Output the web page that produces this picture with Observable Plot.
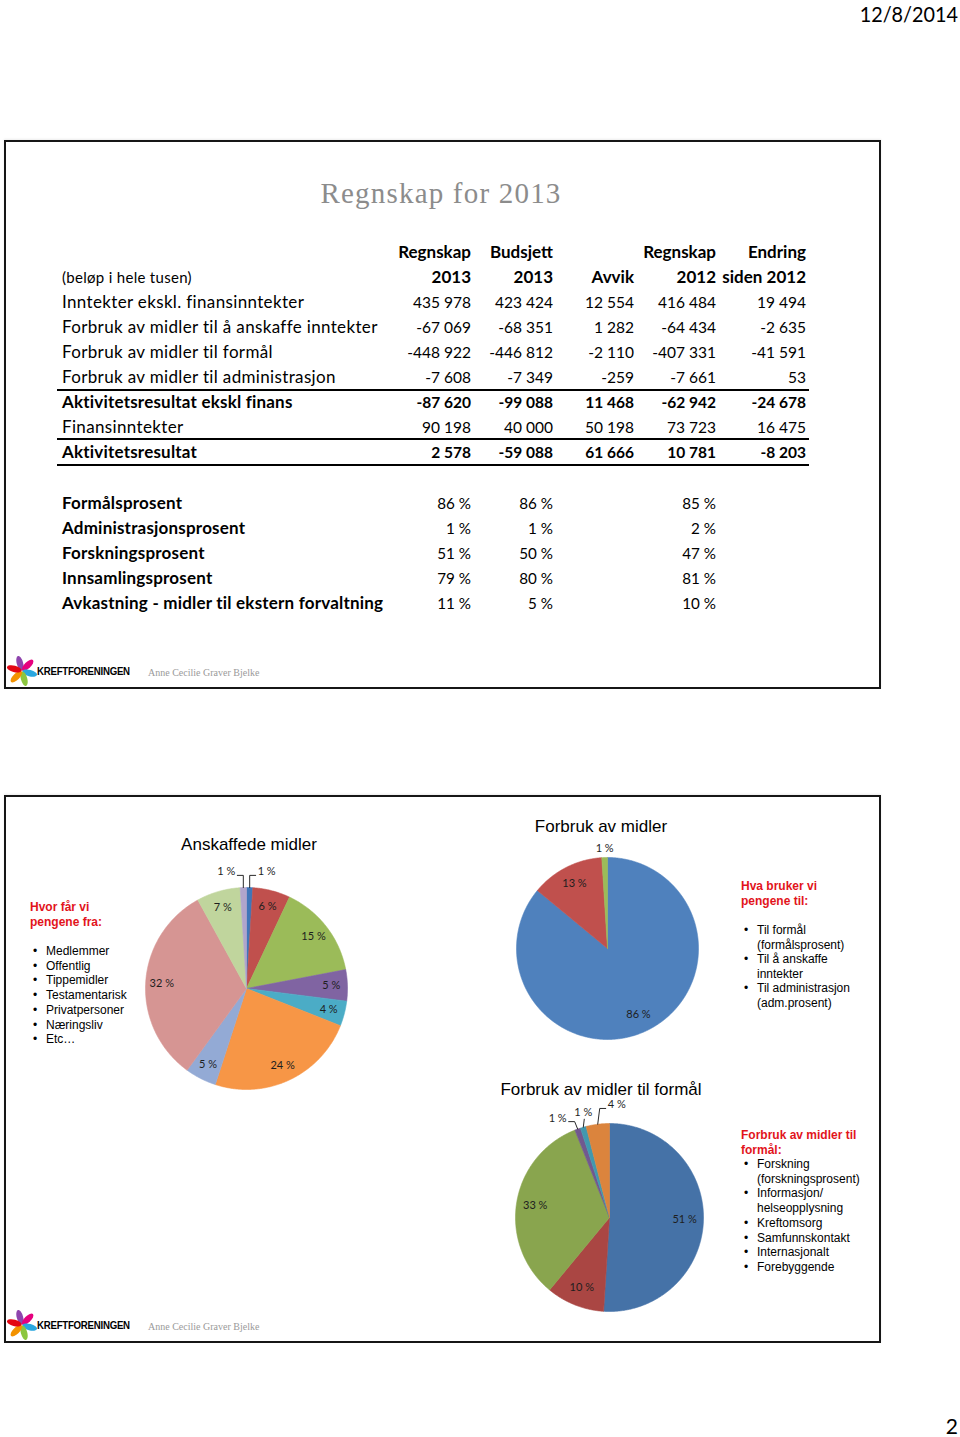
<!DOCTYPE html>
<html><head><meta charset="utf-8">
<script src="https://cdn.jsdelivr.net/npm/d3@7"></script>
<script src="https://cdn.jsdelivr.net/npm/@observablehq/plot@0.6"></script>
<style>
body{margin:0;background:#fff;}
#page{position:relative;width:960px;height:1437px;overflow:hidden;background:#fff;}
.t{position:absolute;white-space:nowrap;line-height:1.2;}
.slide{position:absolute;border:2px solid #161616;box-sizing:border-box;box-shadow:0 -1px 2px rgba(0,0,0,0.08);}
.rule{position:absolute;height:1.6px;background:#000;}
</style></head><body><div id="page"></div>
<script>
// ---------------- DATA ----------------
const pageDate = "12/8/2014";
const pageNumber = "2";
const slideTitle = "Regnskap for 2013";
const unitNote = "(beløp i hele tusen)";
const columnHeads = [["Regnskap","2013"],["Budsjett","2013"],["","Avvik"],["Regnskap","2012"],["Endring","siden 2012"]];
const rowLabels = ["Inntekter ekskl. finansinntekter","Forbruk av midler til å anskaffe inntekter","Forbruk av midler til formål","Forbruk av midler til administrasjon","Aktivitetsresultat ekskl finans","Finansinntekter","Aktivitetsresultat"];
const regnskap2013 = [435978,-67069,-448922,-7608,-87620,90198,2578];
const budsjett2013 = [423424,-68351,-446812,-7349,-99088,40000,-59088];
const avvik = [12554,1282,-2110,-259,11468,50198,61666];
const regnskap2012 = [416484,-64434,-407331,-7661,-62942,73723,10781];
const endring2012 = [19494,-2635,-41591,53,-24678,16475,-8203];

const pctLabels = ["Formålsprosent","Administrasjonsprosent","Forskningsprosent","Innsamlingsprosent","Avkastning - midler til ekstern forvaltning"];
const pctRegnskap2013 = [86,1,51,79,11];
const pctBudsjett2013 = [86,1,50,80,5];
const pctRegnskap2012 = [85,2,47,81,10];

const pieTitles = ["Anskaffede midler","Forbruk av midler","Forbruk av midler til formål"];
const anskaffedeValues = [1,6,15,5,4,24,5,32,7,1];
const forbrukValues = [86,13,1];
const formalValues = [51,10,33,1,1,4];

const kilderHeading = ["Hvor får vi","pengene fra:"];
const kilder = [["Medlemmer"],["Offentlig"],["Tippemidler"],["Testamentarisk"],["Privatpersoner"],["Næringsliv"],["Etc…"]];
const brukHeading = ["Hva bruker vi","pengene til:"];
const bruk = [["Til formål","(formålsprosent)"],["Til å anskaffe","inntekter"],["Til administrasjon","(adm.prosent)"]];
const formalHeading = ["Forbruk av midler til","formål:"];
const formal = [["Forskning","(forskningsprosent)"],["Informasjon/","helseopplysning"],["Kreftomsorg"],["Samfunnskontakt"],["Internasjonalt"],["Forebyggende"]];
const orgName = "KREFTFORENINGEN";
const author = "Anne Cecilie Graver Bjelke";

// ---------------- STYLE ----------------
const palette1 = ["#3F76B9","#C0504D","#9BBB59","#8064A2","#4BACC6","#F79646","#93AAD5","#D69593","#C0D59D","#B0A5CC"];
const palette2 = ["#4F81BD","#C0504D","#9BBB59"];
const palette3 = ["#4572A7","#AA4643","#89A54E","#71588F","#4198AF","#DB843D"];
const CAL = "Lato, 'Open Sans', sans-serif";
const ARIAL = "'Liberation Sans', Arial, sans-serif";
const RED = "#E2141C";

const page = document.getElementById("page");
function T(txt, x, y, o = {}) {
  const d = document.createElement("div");
  d.className = "t"; d.textContent = txt;
  const a = o.anchor || "start";
  const ax = a === "end" ? "-100%" : a === "middle" ? "-50%" : "0";
  d.style.left = x + "px"; d.style.top = y + "px";
  d.style.transformOrigin = a === "end" ? "right center" : a === "middle" ? "center center" : "left center";
  d.style.transform = `translate(${ax},-50%)` + (o.sx ? ` scaleX(${o.sx})` : "");
  d.style.fontFamily = o.font || CAL;
  d.style.fontSize = (o.size || 16) + "px";
  d.style.fontWeight = o.weight || 400;
  d.style.color = o.color || "#000";
  if (o.ls) d.style.letterSpacing = o.ls + "px";
  page.appendChild(d);
  return d;
}
function box(x0, y0, x1, y1) {
  const d = document.createElement("div"); d.className = "slide";
  Object.assign(d.style, {left: x0 + "px", top: y0 + "px", width: (x1 - x0) + "px", height: (y1 - y0) + "px"});
  page.appendChild(d);
}
function rule(x0, x1, y) {
  const d = document.createElement("div"); d.className = "rule";
  Object.assign(d.style, {left: x0 + "px", top: y + "px", width: (x1 - x0) + "px"});
  page.appendChild(d);
}
const fmt = n => (n < 0 ? "-" : "") + d3.format(",")(Math.abs(n)).replace(/,/g, "\u00A0");
const pct = n => n + "\u00A0%";

// ---------------- PAGE ----------------
T(pageDate, 958, 14, {anchor: "end", size: 22, sx: 0.9, font: CAL});
T(pageNumber, 958, 1426, {anchor: "end", size: 21, font: CAL});

box(4, 140, 881, 689);
box(4, 795, 881, 1343);

T(slideTitle, 441, 193, {anchor: "middle", size: 29, font: "'Liberation Serif', serif", color: "#8c8c8c", ls: 1.2});

const colRight = [471, 553, 634, 716, 806];
columnHeads.forEach((h, j) => {
  T(h[0], colRight[j], 252, {anchor: "end", weight: 700, size: 17});
  T(h[1], colRight[j], 277, {anchor: "end", weight: 700, size: 17});
});
T(unitNote, 62, 277, {size: 15, ls: 0.3});
const boldRows = new Set([4, 6]);
const cols = [regnskap2013, budsjett2013, avvik, regnskap2012, endring2012];
rowLabels.forEach((lab, i) => {
  const y = 302 + i * 25;
  const b = boldRows.has(i);
  T(lab, 62, y, {weight: b ? 700 : 400, size: 17, ls: b ? 0.2 : 0.35});
  cols.forEach((c, j) => T(fmt(c[i]), colRight[j], y, {anchor: "end", weight: b ? 700 : 400, size: 16, sx: 0.97}));
});
rule(57, 809, 389);
rule(57, 809, 438);
rule(57, 809, 464);

const pctCols = [[pctRegnskap2013, 471], [pctBudsjett2013, 553], [pctRegnskap2012, 716]];
pctLabels.forEach((lab, i) => {
  const y = 503 + i * 25;
  T(lab, 62, y, {weight: 700, size: 17, ls: 0.2});
  pctCols.forEach(([c, x]) => T(pct(c[i]), x, y, {anchor: "end", size: 16, sx: 0.95}));
});

// footer logo
function footer(y) {
  const ns = "http://www.w3.org/2000/svg";
  const s = document.createElementNS(ns, "svg");
  s.setAttribute("width", 30); s.setAttribute("height", 30);
  Object.assign(s.style, {position: "absolute", left: "7px", top: (y - 16) + "px"});
  const petals = ["#8E44AD", "#E6007E", "#2AA7DF", "#8CC63F", "#F39200", "#E30613"];
  petals.forEach((c, k) => {
    const e = document.createElementNS(ns, "ellipse");
    e.setAttribute("cx", 15); e.setAttribute("cy", 7); e.setAttribute("rx", 3.2); e.setAttribute("ry", 7.5);
    e.setAttribute("fill", c); e.setAttribute("transform", `rotate(${k * 60 - 15} 15 15)`);
    s.appendChild(e);
  });
  page.appendChild(s);
  T(orgName, 37, y, {size: 11.5, weight: 900, sx: 0.84, ls: -0.3, font: ARIAL});
  T(author, 148, y + 1, {size: 10, font: "'Liberation Serif', serif", color: "#9a9a9a"});
}
footer(672);
footer(1326);

// ---------------- PIES ----------------
function pieChart(values, colors, cfg) {
  const {cx, cy, r, pad, labelR, outside} = cfg;
  const ext = (r + pad) / r, W = 2 * (r + pad);
  const arcs = d3.pie().sort(null).value(d => d)(values);
  const pts = [];
  arcs.forEach((a, i) => {
    const n = Math.max(2, Math.ceil((a.endAngle - a.startAngle) / (Math.PI / 360)));
    pts.push({i, x: 0, y: 0});
    for (let k = 0; k <= n; k++) {
      const t = a.startAngle + (a.endAngle - a.startAngle) * k / n;
      pts.push({i, x: Math.sin(t), y: Math.cos(t)});
    }
    pts.push({i, x: 0, y: 0});
  });
  const outIdx = new Map(outside.map(o => [o.i, o]));
  const inside = arcs.map((a, i) => ({a, i})).filter(d => !outIdx.has(d.i)).map(({a, i}) => {
    const m = (a.startAngle + a.endAngle) / 2;
    return {x: labelR * Math.sin(m), y: labelR * Math.cos(m), text: values[i] + " %"};
  });
  const leaders = [], outL = [], outR = [], outM = [];
  const px = v => v / r;
  outside.forEach((o, k) => {
    const a = arcs[o.i]; const m = (a.startAngle + a.endAngle) / 2;
    const ex = Math.sin(m), ey = Math.cos(m);
    const txt = values[o.i] + " %";
    if (o.side === 0) {
      if (o.leader) { leaders.push({k, x: ex, y: ey}); leaders.push({k, x: ex + px(1), y: o.ly - px(7)}); }
      outM.push({x: ex, y: o.ly, text: txt});
    } else {
      leaders.push({k, x: ex, y: ey});
      leaders.push({k, x: ex + o.side * px(o.dx || 0), y: o.ly});
      leaders.push({k, x: ex + o.side * px((o.dx || 0) + 6), y: o.ly});
      const lab = {x: ex + o.side * px((o.dx || 0) + 8), y: o.ly + px(3.5), text: txt};
      (o.side < 0 ? outL : outR).push(lab);
    }
  });
  const tx = {fontFamily: CAL, fontSize: 11, fill: "#1e1e1e"};
  const svg = Plot.plot({
    width: W, height: W, margin: 0,
    x: {domain: [-ext, ext], axis: null}, y: {domain: [-ext, ext], axis: null},
    color: {type: "identity"},
    style: {background: "transparent", overflow: "visible"},
    marks: [
      Plot.line(pts, {x: "x", y: "y", z: "i", fill: d => colors[d.i], stroke: d => colors[d.i], strokeWidth: 0.6}),
      Plot.line(leaders, {x: "x", y: "y", z: "k", stroke: "#111", strokeWidth: 0.9}),
      Plot.text(inside, {x: "x", y: "y", text: "text", ...tx}),
      Plot.text(outM, {x: "x", y: "y", text: "text", ...tx}),
      Plot.text(outL, {x: "x", y: "y", text: "text", textAnchor: "end", ...tx}),
      Plot.text(outR, {x: "x", y: "y", text: "text", textAnchor: "start", ...tx})
    ]
  });
  Object.assign(svg.style, {position: "absolute", left: (cx - W / 2) + "px", top: (cy - W / 2) + "px"});
  page.appendChild(svg);
}

pieChart(anskaffedeValues, palette1, {cx: 246, cy: 988, r: 101, pad: 40, labelR: 0.84,
  outside: [{i: 9, side: -1, ly: 1.12}, {i: 0, side: 1, ly: 1.12}]});
pieChart(forbrukValues, palette2, {cx: 607, cy: 948, r: 91, pad: 30, labelR: 0.8,
  outside: [{i: 2, side: 0, ly: 1.1, leader: false}]});
pieChart(formalValues, palette3, {cx: 609, cy: 1217, r: 94, pad: 40, labelR: 0.8,
  outside: [{i: 3, side: -1, ly: 1.02, dx: 3}, {i: 4, side: 0, ly: 1.12, leader: true}, {i: 5, side: 1, ly: 1.16, dx: 2}]});

T(pieTitles[0], 249, 845, {anchor: "middle", size: 17, font: ARIAL});
T(pieTitles[1], 601, 827, {anchor: "middle", size: 17, font: ARIAL});
T(pieTitles[2], 601, 1090, {anchor: "middle", size: 17, font: ARIAL});

// side texts
function bulletList(heading, items, x, yHead, yStart, step) {
  heading.forEach((h, k) => T(h, x, yHead + k * 15, {size: 12, weight: 700, color: RED, font: ARIAL}));
  let y = yStart;
  items.forEach(it => {
    T("•", x + 3, y, {size: 12, font: ARIAL});
    it.forEach(line => { T(line, x + 16, y, {size: 12, font: ARIAL}); y += step; });
  });
}
bulletList(kilderHeading, kilder, 30, 907, 951, 14.7);
bulletList(brukHeading, bruk, 741, 886, 930, 14.6);
bulletList(formalHeading, formal, 741, 1135, 1164, 14.7);
</script></body></html>
